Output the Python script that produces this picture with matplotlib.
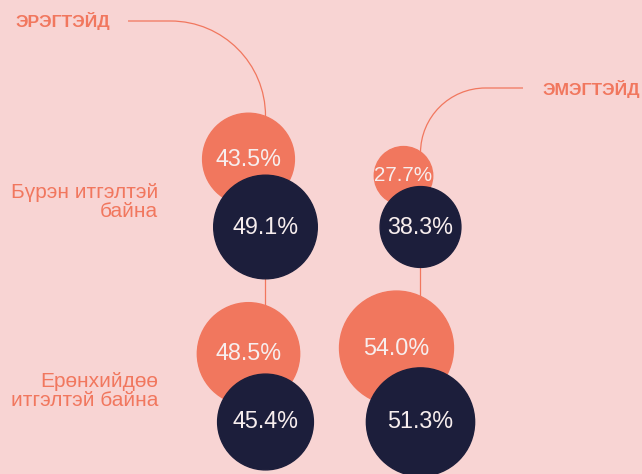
import matplotlib.pyplot as plt
from matplotlib.patches import Circle
from matplotlib.path import Path
from matplotlib.patches import PathPatch

# data
rows = ['Бүрэн итгэлтэй\nбайна', 'Ерөнхийдөө\nитгэлтэй байна']
groups = ['ЭРЭГТЭЙД', 'ЭМЭГТЭЙД']
men_light = [43.5, 48.5]
men_dark = [49.1, 45.4]
women_light = [27.7, 54.0]
women_dark = [38.3, 51.3]

# style / layout (pixel space)
BG = '#f8d4d3'
SALMON = '#f1775e'
NAVY = '#1c1e3b'
TXT = '#f7eeee'
FONT = ['Liberation Sans', 'DejaVu Sans']
px_per_pct = 1.055
col_x = [265.5, 420.5]
light_dx = [[17, 17], [17, 24]]
row_y = [227, 422]
light_bottom = [205, 405]
label_y = [202, 391]

fig = plt.figure(figsize=(6.42, 4.74), dpi=100, facecolor=BG)
ax = fig.add_axes([0, 0, 1, 1])
ax.set_xlim(0, 642)
ax.set_ylim(474, 0)
ax.set_aspect('equal')
ax.axis('off')
ax.set_facecolor(BG)


def leader(ax, x0, y0, xc, yc, R, x_end, y_end):
    # horizontal line, quarter-arc, then vertical down through the column
    k = 0.552 * R
    s = 1 if x0 > xc else -1
    verts = [(x0, y0), (xc + s * R, y0),
             (xc + s * (R - k), y0), (xc, yc + R - k), (xc, yc + R),
             (x_end, y_end)]
    codes = [Path.MOVETO, Path.LINETO, Path.CURVE4, Path.CURVE4, Path.CURVE4, Path.LINETO]
    ax.add_patch(PathPatch(Path(verts, codes), fill=False, edgecolor=SALMON, lw=0.9, zorder=1))


leader(ax, 128, 21, col_x[0], 21, 95, col_x[0], 400)
leader(ax, 523, 88, col_x[1], 88, 65, col_x[1], 400)

ax.text(16, 21, groups[0], ha='left', va='center', fontsize=12.6, fontweight='bold',
        color=SALMON, family=FONT)
ax.text(640, 89, groups[1], ha='right', va='center', fontsize=12.6, fontweight='bold',
        color=SALMON, family=FONT)

for i, lab in enumerate(rows):
    ax.text(158, label_y[i], lab, ha='right', va='center',
            fontsize=15, color=SALMON, family=FONT, linespacing=1.03, multialignment='right')


def label_size(r):
    return min(16.8, 2 * r / 2.835 * 0.72)


cols = [(men_light, men_dark), (women_light, women_dark)]
for c, (light, dark) in enumerate(cols):
    for i in range(len(rows)):
        r = light[i] * px_per_pct
        cx = col_x[c] - light_dx[c][i]
        cy = light_bottom[i] - r
        ax.add_patch(Circle((cx, cy), r, color=SALMON, zorder=2))
        ax.text(cx, cy, f'{light[i]:.1f}%', ha='center', va='center', color=TXT,
                fontsize=label_size(r), family=FONT, zorder=5)
        r = dark[i] * px_per_pct
        cx = col_x[c]
        cy = row_y[i]
        ax.add_patch(Circle((cx, cy), r, color=NAVY, zorder=3))
        ax.text(cx, cy, f'{dark[i]:.1f}%', ha='center', va='center', color=TXT,
                fontsize=label_size(r), family=FONT, zorder=5)

fig.savefig('out.png', dpi=100, facecolor=BG)
